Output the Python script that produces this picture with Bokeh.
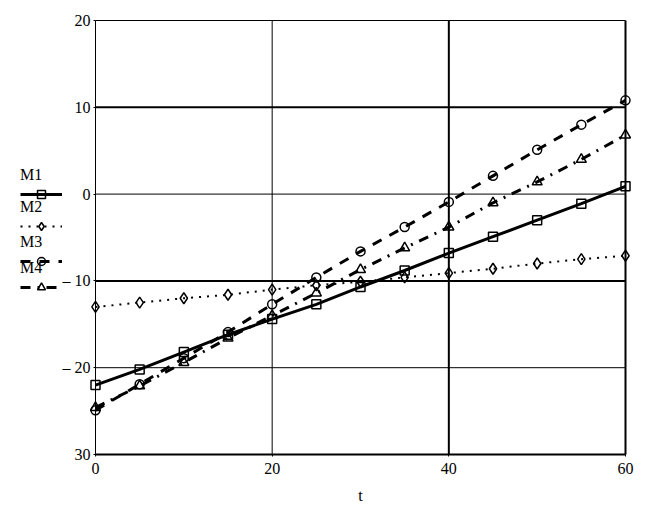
from bokeh.plotting import figure
from bokeh.models import Legend, LegendItem, Label
from bokeh.embed import file_html
from bokeh.resources import INLINE

# ---- data ----
t = [0, 5, 10, 15, 20, 25, 30, 35, 40, 45, 50, 55, 60]
m1 = [-22.0, -20.2, -18.2, -16.2, -14.4, -12.7, -10.7, -8.8, -6.8, -4.9, -3.0, -1.1, 0.9]
m2 = [-13.0, -12.5, -12.0, -11.6, -11.0, -10.5, -10.1, -9.6, -9.1, -8.6, -8.0, -7.5, -7.1]
m3 = [-24.9, -21.9, -18.9, -15.9, -12.7, -9.6, -6.6, -3.8, -0.9, 2.1, 5.1, 8.0, 10.8]
m4 = [-24.6, -22.1, -19.4, -16.6, -14.0, -11.4, -8.7, -6.2, -3.8, -1.0, 1.4, 4.0, 6.8]
series_names = ["M1", "M2", "M3", "M4"]

x_ticks = [0, 20, 40, 60]
x_tick_labels = ["0", "20", "40", "60"]
y_ticks = [-30, -20, -10, 0, 10, 20]
y_tick_labels = ["30", "\u2013 20", "\u2013 10", "0", "10", "20"]
x_title = "t"

FONT = "Liberation Serif"
PX_X = 530 / 60.0   # px per unit of t
PX_Y = 434 / 50.0   # px per unit of value

# the frame is larger than the plotted box so that the legend, tick labels
# and axis title (drawn inside it) are not clipped; axes sit at t=0 / value=-30
x_start = x_ticks[0] - 85 / PX_X
x_end = x_ticks[-1] + 15 / PX_X
y_start = y_ticks[0] - 52 / PX_Y
y_end = y_ticks[-1] + 12 / PX_Y

p = figure(frame_width=630, frame_height=498, x_range=(x_start, x_end),
           y_range=(y_start, y_end),
           output_backend="svg", toolbar_location=None,
           min_border_left=10, min_border_right=8, min_border_top=8, min_border_bottom=2)
p.background_fill_color = "white"
p.border_fill_color = "white"
p.xgrid.visible = False
p.ygrid.visible = False
p.outline_line_color = None

# horizontal grid lines + top border (Mathcad style, some heavier)
gy = [20, 10, 0, -10, -20]
gwy = [1, 2, 1, 2, 1]
p.segment(x0=[x_ticks[0]] * len(gy), x1=[x_ticks[-1]] * len(gy), y0=gy, y1=gy,
          line_color="black", line_width=gwy)
# vertical grid lines + right border
gx = [20, 40, 60]
gwx = [1, 2, 2]
p.segment(x0=gx, x1=gx, y0=[y_ticks[0]] * len(gx), y1=[y_ticks[-1]] * len(gx),
          line_color="black", line_width=gwx)

# axes
p.xaxis.ticker = x_ticks
p.xaxis.major_label_overrides = dict(zip(x_ticks, x_tick_labels))
p.xaxis.fixed_location = y_ticks[0]
p.xaxis.bounds = (x_ticks[0], x_ticks[-1])
p.yaxis.ticker = y_ticks
p.yaxis.major_label_overrides = dict(zip(y_ticks, y_tick_labels))
p.yaxis.fixed_location = x_ticks[0]
p.yaxis.bounds = (y_ticks[0], y_ticks[-1])
for ax in (p.xaxis[0], p.yaxis[0]):
    ax.minor_tick_line_color = None
    ax.major_tick_in = 0
    ax.major_tick_out = 2
    ax.major_tick_line_color = "black"
    ax.axis_line_color = "black"
    ax.major_label_text_font = FONT
    ax.major_label_text_font_size = "16px"
    ax.major_label_text_color = "black"
p.xaxis.axis_line_width = 2
p.yaxis.axis_line_width = 1
p.xaxis.major_label_standoff = 6
p.yaxis.major_label_standoff = 3

# axis title, centred under the plotted box
p.add_layout(Label(x=(x_ticks[0] + x_ticks[-1]) / 2, y=y_ticks[0] - 41 / PX_Y,
                   text=x_title, text_font=FONT, text_font_size="16px",
                   text_color="black", text_align="center", text_baseline="middle"))

# series
specs = [
    (m1, "solid", 3, "square", 9),
    (m2, "2 6", 2, "diamond", 11),
    (m3, "10 9", 3, "circle", 9),
    (m4, "10 7 2 7", 3, "triangle", 10),
]
renderers = []
for ys, dash, lw, mk, sz in specs:
    lr = p.line(t, ys, line_color="black", line_width=lw, line_dash=dash)
    sr = p.scatter(t, ys, marker=mk, size=sz, fill_color=None,
                   line_color="black", line_width=1.5)
    renderers.append((lr, sr))

# legend: one small legend per series, name as the legend title above its sample
leg_y = [302, 270, 235, 209]
for name, (lr, sr), vy in zip(series_names, renderers, leg_y):
    leg = Legend(items=[LegendItem(label=" ", renderers=[lr, sr])],
                 title=name, title_text_font=FONT, title_text_font_size="16px",
                 title_text_font_style="normal", title_text_color="black",
                 title_standoff=0,
                 location=(10, vy), glyph_width=42, glyph_height=20,
                 label_height=20, label_width=1, label_standoff=0,
                 label_text_font_size="1px",
                 padding=0, margin=0, spacing=0,
                 border_line_color=None, background_fill_alpha=0)
    p.add_layout(leg)

open("out.html", "w").write(file_html(p, INLINE))
